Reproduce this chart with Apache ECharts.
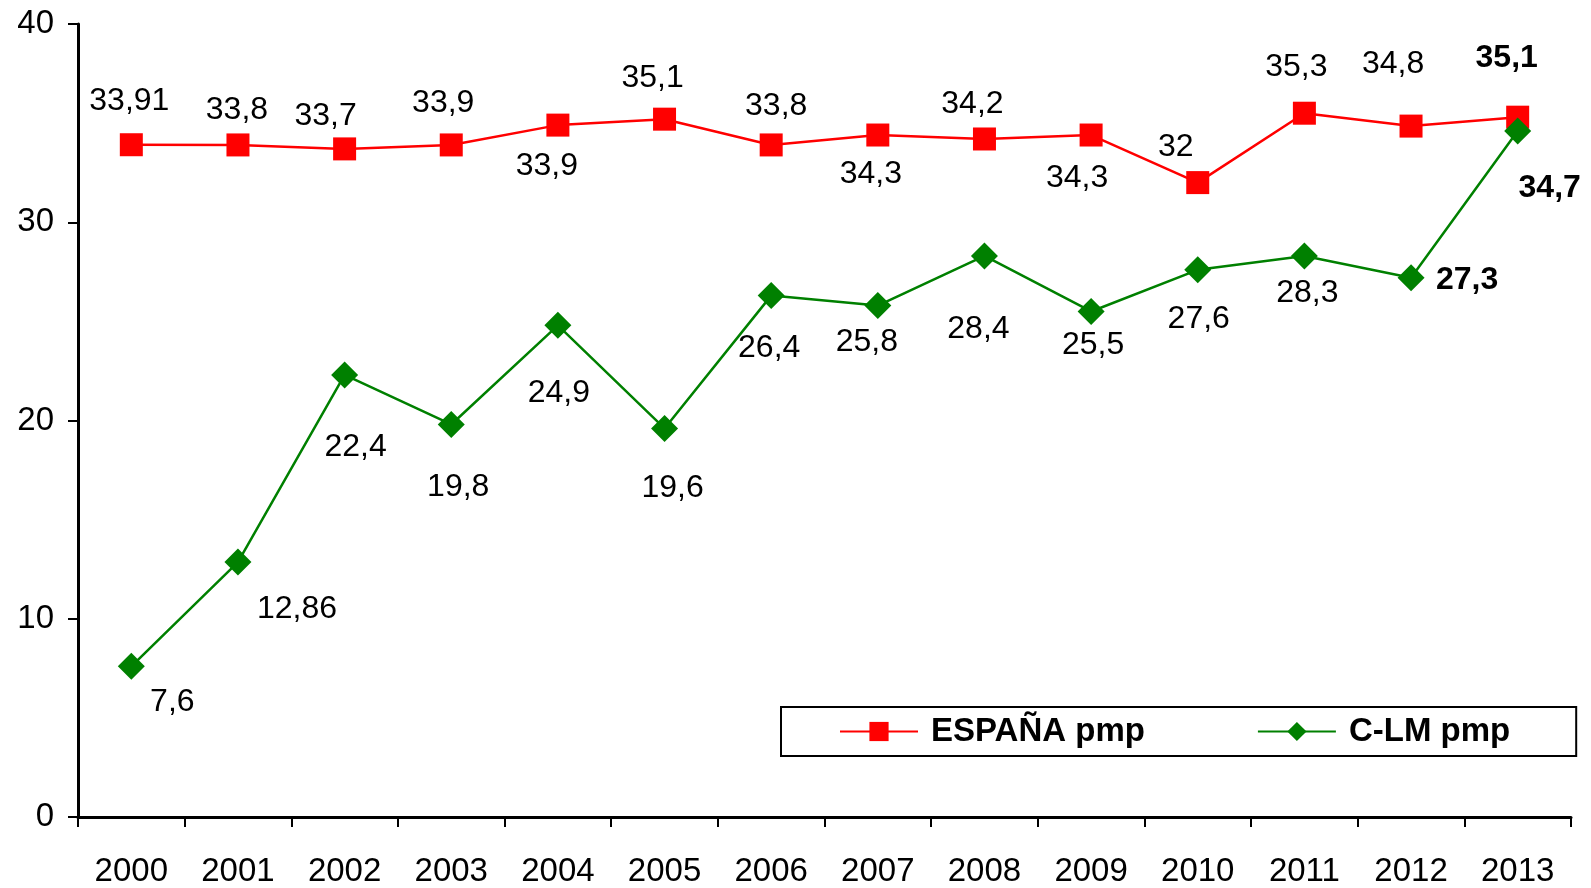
<!DOCTYPE html>
<html>
<head>
<meta charset="utf-8">
<script src="https://cdn.jsdelivr.net/npm/echarts@6/dist/echarts.min.js"></script>
<style>
  html, body { margin: 0; padding: 0; background: #fff; }
  #chart { width: 1591px; height: 888px; }
</style>
</head>
<body>
<div id="chart"></div>
<script>
var years = ['2000', '2001', '2002', '2003', '2004', '2005', '2006', '2007', '2008', '2009', '2010', '2011', '2012', '2013'];

// ESPAÑA pmp
var espanaValues = [33.91, 33.9, 33.7, 33.9, 34.9, 35.2, 33.9, 34.4, 34.2, 34.4, 32.0, 35.5, 34.85, 35.3];
var espanaLabels = ['33,91', '33,8', '33,7', '33,9', '33,9', '35,1', '33,8', '34,3', '34,2', '34,3', '32', '35,3', '34,8', '35,1'];

// C-LM pmp
var clmValues = [7.6, 12.86, 22.3, 19.8, 24.8, 19.6, 26.3, 25.8, 28.3, 25.5, 27.6, 28.3, 27.2, 34.6];
var clmLabels = ['7,6', '12,86', '22,4', '19,8', '24,9', '19,6', '26,4', '25,8', '28,4', '25,5', '27,6', '28,3', '27,3', '34,7'];

// label offsets from the marker centre (layout only)
var espanaOffsets = [[-2, -44], [-1, -35], [-19, -33], [-8, -42], [-11, 41], [-12, -41], [5, -39], [-7, 39], [-12, -35], [-14, 43], [-22, -35], [-8, -46], [-18, -62], [-11, -59]];
var clmOffsets = [[41, 36], [59, 47], [11, 72], [7, 63], [1, 68], [8, 60], [-2, 53], [-11, 37], [-6, 73], [2, 34], [1, 49], [3, 37], [56, 2], [32, 57]];

function buildData(values, labels, offsets, series) {
	var data = [];
	for (var i = 0; i < values.length; i++) {
		var bold = (i === 13) || (series === 'clm' && i === 12);
		data.push({
			value: values[i],
			label: {
				show: true,
				position: 'inside',
				offset: offsets[i],
				formatter: labels[i],
				fontWeight: bold ? 'bold' : 'normal'
			}
		});
	}
	return data;
}

var chart = echarts.init(document.getElementById('chart'));
var font = 'Liberation Sans, Arial, sans-serif';

var option = {
	animation: false,
	backgroundColor: '#fff',
	textStyle: { fontFamily: font },
	grid: { left: 78, right: 20, top: 24, bottom: 70, containLabel: false },
	legend: {
		left: 781,
		top: 707,
		orient: 'horizontal',
		borderColor: '#000',
		borderWidth: 2,
		padding: [8, 66, 8, 58],
		itemGap: 112,
		itemWidth: 78,
		itemHeight: 24,
		textStyle: { fontFamily: font, fontSize: 33, fontWeight: 'bold', color: '#000', padding: [0, 0, 0, 8] },
		data: ['ESPAÑA pmp', 'C-LM pmp']
	},
	xAxis: {
		type: 'category',
		data: years,
		boundaryGap: true,
		axisLine: { lineStyle: { color: '#000', width: 3 } },
		axisTick: { show: true, length: 10, lineStyle: { color: '#000', width: 2 } },
		axisLabel: { color: '#000', fontSize: 33, fontFamily: font, margin: 38 },
		splitLine: { show: false }
	},
	yAxis: {
		type: 'value',
		min: 0,
		max: 40,
		interval: 10,
		axisLine: { show: true, lineStyle: { color: '#000', width: 3 } },
		axisTick: { show: true, length: 10, lineStyle: { color: '#000', width: 2 } },
		axisLabel: { color: '#000', fontSize: 33, fontFamily: font, margin: 24 },
		splitLine: { show: false }
	},
	series: [
		{
			name: 'ESPAÑA pmp',
			type: 'line',
			data: buildData(espanaValues, espanaLabels, espanaOffsets, 'es'),
			symbol: 'rect',
			symbolSize: 23,
			itemStyle: { color: '#ff0000' },
			lineStyle: { color: '#ff0000', width: 2.5 },
			label: { color: '#000', fontSize: 32, fontFamily: font },
			z: 2
		},
		{
			name: 'C-LM pmp',
			type: 'line',
			data: buildData(clmValues, clmLabels, clmOffsets, 'clm'),
			symbol: 'diamond',
			symbolSize: 27,
			itemStyle: { color: '#008000' },
			lineStyle: { color: '#008000', width: 2.5 },
			label: { color: '#000', fontSize: 32, fontFamily: font },
			z: 3
		}
	]
};

chart.setOption(option);
</script>
</body>
</html>
